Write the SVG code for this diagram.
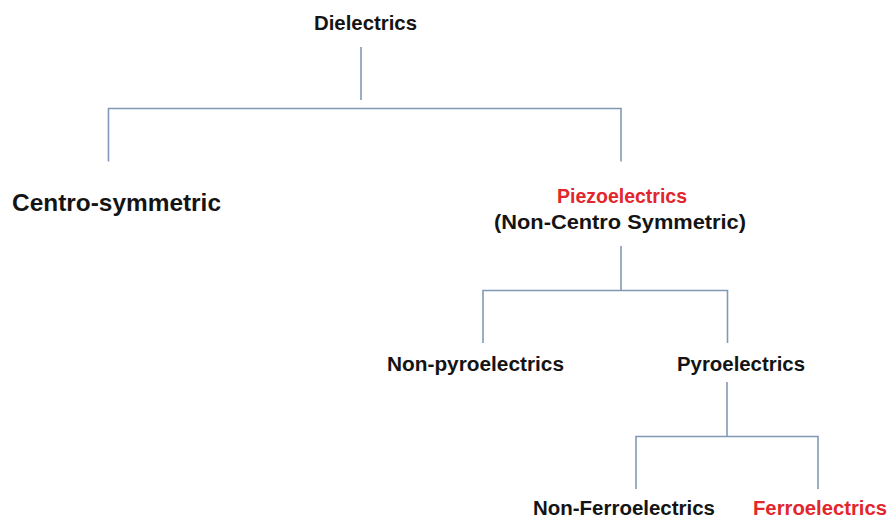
<svg xmlns="http://www.w3.org/2000/svg" width="890" height="520" viewBox="0 0 890 520">
<style>
  .t { font-family: "Liberation Sans", Arial, sans-serif; font-weight: bold; fill: #141414; }
  .r { fill: #e2262b; }
  .c { stroke: #8199b5; stroke-width: 1.6; fill: none; }
</style>
<rect width="890" height="520" fill="#ffffff"/>
<g id="connectors">
  <path class="c" d="M361 47 V100"/>
  <path class="c" d="M108.5 161.5 V108.5 H621 V161.5"/>
  <path class="c" d="M621 246 V290.5"/>
  <path class="c" d="M483 343 V290.5 H727.5 V343"/>
  <path class="c" d="M727 382 V436.5"/>
  <path class="c" d="M636 489 V436.5 H818 V489"/>
</g>
<g id="dielectrics">
  <text class="t" x="365.5" y="30" font-size="21" text-anchor="middle" textLength="103" lengthAdjust="spacingAndGlyphs">Dielectrics</text>
</g>
<g id="centro-symmetric">
  <text class="t" x="12" y="211" font-size="24" textLength="209" lengthAdjust="spacingAndGlyphs">Centro-symmetric</text>
</g>
<g id="piezoelectrics">
  <text class="t r" x="622" y="203" font-size="21" text-anchor="middle" textLength="130" lengthAdjust="spacingAndGlyphs">Piezoelectrics</text>
  <text class="t" x="620" y="229" font-size="21" text-anchor="middle" textLength="252" lengthAdjust="spacingAndGlyphs">(Non-Centro Symmetric)</text>
</g>
<g id="non-pyroelectrics">
  <text class="t" x="475.5" y="371" font-size="20" text-anchor="middle" textLength="177" lengthAdjust="spacingAndGlyphs">Non-pyroelectrics</text>
</g>
<g id="pyroelectrics">
  <text class="t" x="741" y="371" font-size="20" text-anchor="middle" textLength="128" lengthAdjust="spacingAndGlyphs">Pyroelectrics</text>
</g>
<g id="non-ferroelectrics">
  <text class="t" x="624" y="515" font-size="20" text-anchor="middle" textLength="182" lengthAdjust="spacingAndGlyphs">Non-Ferroelectrics</text>
</g>
<g id="ferroelectrics">
  <text class="t r" x="820" y="515" font-size="20" text-anchor="middle" textLength="134" lengthAdjust="spacingAndGlyphs">Ferroelectrics</text>
</g>
</svg>
